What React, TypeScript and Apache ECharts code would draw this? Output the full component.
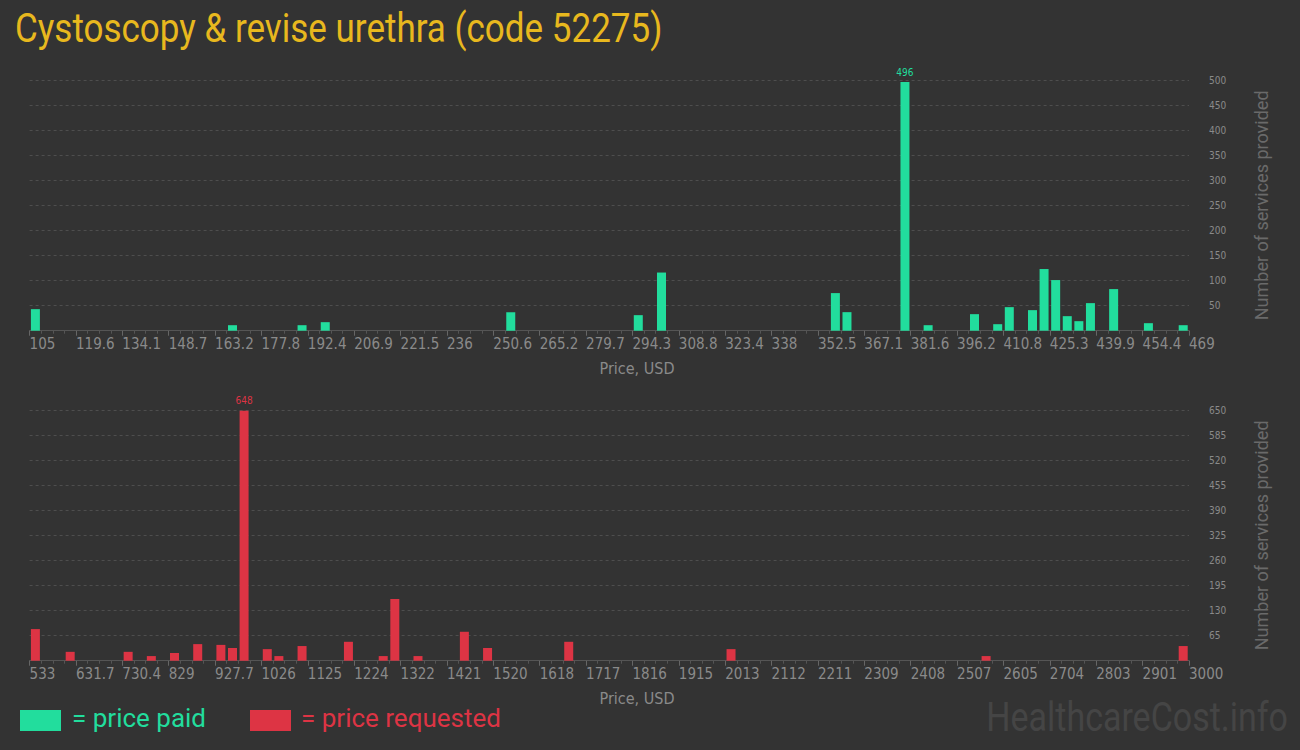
import React, { useEffect, useRef } from "react";
import * as echarts from "echarts";

// ---- data ----
const title = "Cystoscopy & revise urethra (code 52275)";

const paidTickLabels = ["105","119.6","134.1","148.7","163.2","177.8","192.4","206.9","221.5","236","250.6","265.2","279.7","294.3","308.8","323.4","338","352.5","367.1","381.6","396.2","410.8","425.3","439.9","454.4","469"];
const paidBins = [0, 17, 23, 25, 41, 52, 54, 69, 70, 75, 77, 81, 83, 84, 86, 87, 88, 89, 90, 91, 93, 96, 99];
const paidCounts = [43, 11, 11, 17, 37, 31, 116, 75, 37, 496, 11, 33, 13, 47, 41, 123, 101, 29, 19, 55, 83, 15, 11];
const paidYMax = 500;
const paidYStep = 50;

const reqTickLabels = ["533","631.7","730.4","829","927.7","1026","1125","1224","1322","1421","1520","1618","1717","1816","1915","2013","2112","2211","2309","2408","2507","2605","2704","2803","2901","3000"];
const reqBins = [0, 3, 8, 10, 12, 14, 16, 17, 18, 20, 21, 23, 27, 30, 31, 33, 37, 39, 46, 60, 82, 99];
const reqCounts = [82, 23, 23, 12, 20, 43, 41, 33, 648, 30, 12, 38, 49, 12, 160, 12, 75, 33, 49, 30, 12, 38];
const reqYMax = 650;
const reqYStep = 65;

const binCount = 100;
const binsPerLabel = 4;

const GREEN = "#22dd9d";
const RED = "#dd3444";
const BG = "#333333";
const NARROW = "'Liberation Sans Narrow', 'DejaVu Sans Condensed', 'Roboto', sans-serif";

function makeX(gridIndex: number, labels: string[]) {
  return {
    type: "value",
    gridIndex,
    min: 0,
    max: binCount,
    interval: binsPerLabel,
    axisLine: { show: true, onZero: false, lineStyle: { color: "#555555", width: 1 } },
    axisTick: { show: true, length: 5, lineStyle: { color: "#666666" } },
    minorTick: { show: true, splitNumber: binsPerLabel, length: 3, lineStyle: { color: "#555555" } },
    splitLine: { show: false },
    axisLabel: {
      color: "#8a8a8a",
      fontFamily: NARROW,
      fontSize: 15,
      margin: 6,
      align: "left",
      hideOverlap: false,
      showMaxLabel: true,
      showMinLabel: true,
      formatter: (v: number) => labels[Math.round(v / binsPerLabel)] ?? "",
    },
  };
}

function makeY(gridIndex: number, max: number, step: number) {
  return {
    type: "value",
    gridIndex,
    position: "right",
    min: 0,
    max,
    interval: step,
    name: "Number of services provided",
    nameLocation: "middle",
    nameRotate: 90,
    nameGap: 63,
    nameTextStyle: { color: "#6a6a6a", fontSize: 18, fontFamily: "Roboto, sans-serif" },
    axisLine: { show: false },
    axisTick: { show: false },
    splitLine: { show: true, lineStyle: { color: "#4e4e4e", type: [3, 3] } },
    axisLabel: {
      color: "#8a8a8a",
      fontFamily: NARROW,
      fontSize: 10,
      margin: 20,
      showMinLabel: false,
    },
  };
}

function makeSeries(bins: number[], counts: number[], color: string, xi: number) {
  const maxVal = Math.max(...counts);
  return {
    type: "bar",
    xAxisIndex: xi,
    yAxisIndex: xi,
    barWidth: 9,
    itemStyle: { color },
    data: bins.map((b, i) => [b + 0.5, counts[i]]),
    label: {
      show: true,
      position: "top",
      distance: 5,
      color,
      fontSize: 10,
      fontFamily: NARROW,
      formatter: (p: any) => (p.value[1] === maxVal ? String(p.value[1]) : ""),
    },
  };
}

export default function App() {
  const ref = useRef<HTMLDivElement>(null);
  useEffect(() => {
    if (!ref.current) return;
    const chart = echarts.init(ref.current, undefined, { renderer: "svg" });
    chart.setOption({
      animation: false,
      backgroundColor: BG,
      grid: [
        { left: 29.6, width: 1159.4, top: 80, height: 250.7 },
        { left: 29.6, width: 1159.4, top: 410, height: 250.7 },
      ],
      xAxis: [makeX(0, paidTickLabels), makeX(1, reqTickLabels)],
      yAxis: [makeY(0, paidYMax, paidYStep), makeY(1, reqYMax, reqYStep)],
      series: [
        makeSeries(paidBins, paidCounts, GREEN, 0),
        makeSeries(reqBins, reqCounts, RED, 1),
      ],
      graphic: [
        {
          type: "text",
          x: 15,
          y: 8,
          scaleX: 0.875,
          style: { text: title, fill: "#e8b81e", font: "40px Roboto, sans-serif", textVerticalAlign: "top" },
        },
        {
          type: "text",
          x: 637,
          y: 360,
          style: { text: "Price, USD", fill: "#8a8a8a", font: "16px " + NARROW, textAlign: "center", textVerticalAlign: "top" },
        },
        {
          type: "text",
          x: 637,
          y: 690,
          style: { text: "Price, USD", fill: "#8a8a8a", font: "16px " + NARROW, textAlign: "center", textVerticalAlign: "top" },
        },
        { type: "rect", shape: { x: 20, y: 710, width: 41, height: 21 }, style: { fill: GREEN } },
        {
          type: "text",
          x: 72,
          y: 705,
          style: { text: "= price paid", fill: GREEN, font: "26px Roboto, sans-serif", textVerticalAlign: "top" },
        },
        { type: "rect", shape: { x: 250, y: 710, width: 41, height: 21 }, style: { fill: RED } },
        {
          type: "text",
          x: 301,
          y: 705,
          style: { text: "= price requested", fill: RED, font: "26px Roboto, sans-serif", textVerticalAlign: "top" },
        },
        {
          type: "text",
          x: 1288,
          y: 698,
          scaleX: 0.85,
          style: { text: "HealthcareCost.info", fill: "#454545", font: "40px Roboto, sans-serif", textAlign: "right", textVerticalAlign: "top" },
        },
      ],
    });
    return () => chart.dispose();
  }, []);
  return (
    <div
      ref={ref}
      style={{ position: "absolute", left: 0, top: 0, width: 1300, height: 750 }}
    />
  );
}
